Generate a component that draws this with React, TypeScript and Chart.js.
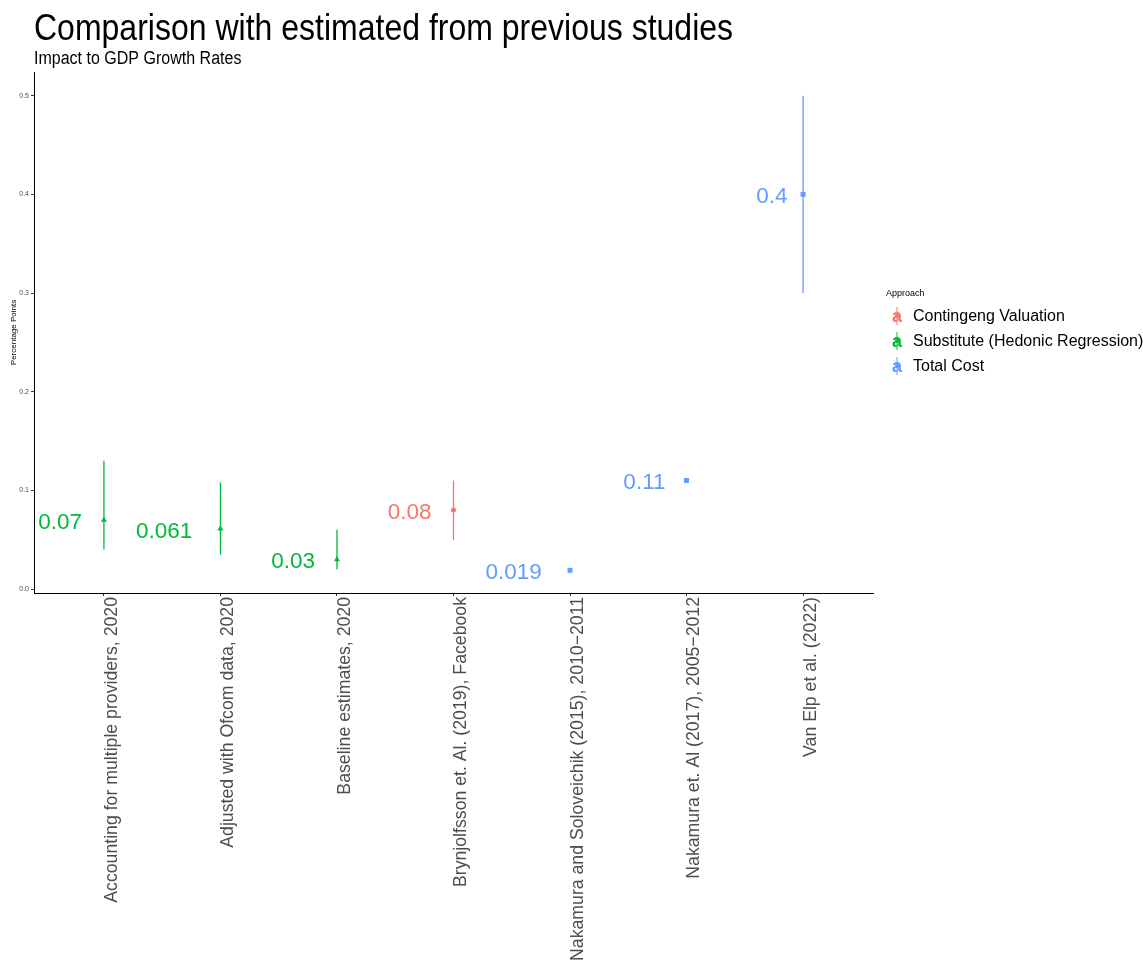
import React, { useEffect, useRef } from "react";
import { Chart, registerables } from "chart.js";

Chart.register(...registerables);

const categories = [
  "Accounting for multiple providers, 2020",
  "Adjusted with Ofcom data, 2020",
  "Baseline estimates, 2020",
  "Brynjolfsson et. Al. (2019), Facebook",
  "Nakamura and Soloveichik (2015), 2010\u22122011",
  "Nakamura et. Al (2017), 2005\u22122012",
  "Van Elp et al. (2022)",
];
const approachOf = [
  "Substitute (Hedonic Regression)",
  "Substitute (Hedonic Regression)",
  "Substitute (Hedonic Regression)",
  "Contingeng Valuation",
  "Total Cost",
  "Total Cost",
  "Total Cost",
];
const values = [0.07, 0.061, 0.03, 0.08, 0.019, 0.11, 0.4];
const lows: (number | null)[] = [0.04, 0.035, 0.02, 0.05, null, null, 0.3];
const highs: (number | null)[] = [0.13, 0.108, 0.06, 0.11, null, null, 0.5];
const valueLabels = ["0.07", "0.061", "0.03", "0.08", "0.019", "0.11", "0.4"];
const approaches = ["Contingeng Valuation", "Substitute (Hedonic Regression)", "Total Cost"];
const approachColors = ["#F8766D", "#00BA38", "#619CFF"];
const approachShapes = ["circle", "triangle", "rect"];
const yTicks = [0, 0.1, 0.2, 0.3, 0.4, 0.5];

const SANS = "'Liberation Sans', Arial, sans-serif";

function narrowText(ctx: any, text: string, x: number, y: number, sx: number) {
  ctx.save();
  ctx.translate(x, y);
  ctx.scale(sx, 1);
  ctx.fillText(text, 0, 0);
  ctx.restore();
}

const overlay = {
  id: "overlay",
  beforeDatasetsDraw(chart: any) {
    const ctx = chart.ctx;
    const xs = chart.scales.x;
    const ys = chart.scales.y;
    ctx.save();
    categories.forEach((_, i) => {
      const lo = lows[i];
      const hi = highs[i];
      if (lo == null || hi == null) return;
      const c = approachColors[approaches.indexOf(approachOf[i])];
      const px = xs.getPixelForValue(i);
      ctx.strokeStyle = c;
      ctx.lineWidth = 1.3;
      ctx.beginPath();
      ctx.moveTo(px, ys.getPixelForValue(lo));
      ctx.lineTo(px, ys.getPixelForValue(hi));
      ctx.stroke();
    });
    ctx.restore();
  },
  afterDraw(chart: any) {
    const ctx = chart.ctx;
    const xs = chart.scales.x;
    const ys = chart.scales.y;
    ctx.save();
    // value labels
    ctx.font = `22.5px ${SANS}`;
    ctx.textBaseline = "middle";
    ctx.textAlign = "left";
    values.forEach((v, i) => {
      const c = approachColors[approaches.indexOf(approachOf[i])];
      const px = xs.getPixelForValue(i);
      const py = ys.getPixelForValue(v);
      const w = ctx.measureText(valueLabels[i]).width;
      ctx.fillStyle = c;
      ctx.fillText(valueLabels[i], px - 1.5 * w, py + 2.5);
    });
    // titles
    ctx.fillStyle = "#000";
    ctx.textBaseline = "alphabetic";
    ctx.font = `36px ${SANS}`;
    narrowText(ctx, "Comparison with estimated from previous studies", 34, 40, 0.889);
    ctx.font = `18px ${SANS}`;
    narrowText(ctx, "Impact to GDP Growth Rates", 34, 64, 0.89);
    // y axis title
    ctx.save();
    ctx.translate(16, (chart.chartArea.top + chart.chartArea.bottom) / 2);
    ctx.rotate(-Math.PI / 2);
    ctx.textAlign = "center";
    ctx.font = `8px ${SANS}`;
    ctx.fillText("Percentage Points", 0, 0);
    ctx.restore();
    // legend
    ctx.font = `9px ${SANS}`;
    ctx.fillStyle = "#000";
    ctx.fillText("Approach", 886, 296);
    approaches.forEach((a, k) => {
      const cy = 316 + k * 25;
      const kx = 897;
      const c = approachColors[k];
      ctx.strokeStyle = c;
      ctx.fillStyle = c;
      ctx.lineWidth = 1;
      ctx.beginPath();
      ctx.moveTo(kx, cy - 9);
      ctx.lineTo(kx, cy + 9);
      ctx.stroke();
      ctx.font = `bold 18px ${SANS}`;
      ctx.textAlign = "center";
      ctx.textBaseline = "middle";
      ctx.fillText("a", kx, cy + 1);
      ctx.beginPath();
      ctx.arc(kx, cy, 2, 0, Math.PI * 2);
      ctx.fill();
      ctx.fillStyle = "#000";
      ctx.textAlign = "left";
      ctx.font = `16px ${SANS}`;
      ctx.fillText(a, 913, cy + 1);
    });
    ctx.restore();
  },
};

export default function App() {
  const ref = useRef<HTMLCanvasElement | null>(null);
  useEffect(() => {
    document.body.style.margin = "0";
    const datasets = approaches.map((a, k) => ({
      label: a,
      data: values
        .map((v, i) => ({ x: i, y: v, a: approachOf[i] }))
        .filter((p) => p.a === a)
        .map((p) => ({ x: p.x, y: p.y })),
      backgroundColor: approachColors[k],
      borderColor: approachColors[k],
      pointStyle: approachShapes[k],
      pointRadius: k === 0 ? 2.5 : 3.5,
      borderWidth: 0,
      showLine: false,
    }));
    const chart = new Chart(ref.current!, {
      type: "scatter",
      data: { datasets: datasets as any },
      plugins: [overlay],
      options: {
        animation: false,
        responsive: false,
        events: [],
        layout: { padding: { left: 0, right: 270, top: 72, bottom: 0 } },
        plugins: { legend: { display: false }, tooltip: { enabled: false } },
        scales: {
          x: {
            type: "linear",
            min: -0.6,
            max: 6.6,
            afterBuildTicks: (s: any) => {
              s.ticks = categories.map((_, i) => ({ value: i }));
            },
            afterFit: (s: any) => {
              s.height = 369;
            },
            ticks: {
              autoSkip: false,
              minRotation: 90,
              maxRotation: 90,
              padding: 1,
              labelOffset: 8,
              color: "#4D4D4D",
              font: { family: SANS, size: 17.7 },
              callback: (v: any) => categories[Math.round(v)] ?? "",
            },
            grid: { drawOnChartArea: false, drawTicks: true, tickLength: 3, color: "#333333" },
            border: { display: true, color: "#000", width: 1 },
          },
          y: {
            type: "linear",
            min: -0.004,
            max: 0.524,
            afterBuildTicks: (s: any) => {
              s.ticks = yTicks.map((v) => ({ value: v }));
            },
            afterFit: (s: any) => {
              s.width = 34;
            },
            ticks: {
              padding: 2,
              color: "#4D4D4D",
              font: { family: SANS, size: 7 },
              callback: (v: any) => Number(v).toFixed(1),
            },
            grid: { drawOnChartArea: false, drawTicks: true, tickLength: 3, color: "#333333" },
            border: { display: true, color: "#000", width: 1 },
          },
        },
      },
    });
    return () => chart.destroy();
  }, []);
  return <canvas ref={ref} width={1143} height={962} style={{ display: "block", width: 1143, height: 962 }} />;
}
